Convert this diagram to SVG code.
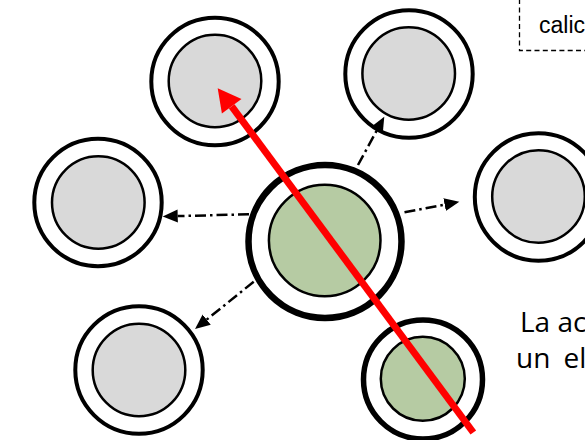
<svg xmlns="http://www.w3.org/2000/svg" width="585" height="440" viewBox="0 0 585 440">
<style>
.ring{fill:#ffffff;stroke:#000000;stroke-width:4}
.ring-big{fill:#ffffff;stroke:#000000;stroke-width:6.5}
.ring-mid{fill:#ffffff;stroke:#000000;stroke-width:5.5}
.grey{fill:#d9d9d9;stroke:#000000;stroke-width:2.5}
.green{fill:#b6cba3;stroke:#000000;stroke-width:2.5}
.dd{fill:none;stroke:#000000;stroke-width:2.5;stroke-dasharray:11 4 2.5 4;marker-end:url(#ah)}
.lbl{font-family:"Open Sans","Liberation Sans",sans-serif;font-size:28px;fill:#000000}
</style>
<defs>
<marker id="ah" markerUnits="userSpaceOnUse" markerWidth="16" markerHeight="14" refX="0" refY="6.5" orient="auto" viewBox="0 0 16 14">
<path d="M0,0 L15,6.5 L0,13 Z" fill="#000000"/>
</marker>
</defs>
<rect width="585" height="440" fill="#ffffff"/>
<g id="box-top">
<rect x="519.5" y="-20" width="120" height="70.5" fill="none" stroke="#000000" stroke-width="1.3" stroke-dasharray="5 3.3"/>
<text x="539" y="32.5" font-family="Liberation Sans, Arial, sans-serif" font-size="23" fill="#000000">calic</text>
</g>
<g id="node-tl"><circle class="ring" cx="215" cy="81.5" r="63.7"/><circle class="grey" cx="215" cy="81" r="46.3"/></g>
<g id="node-tr"><circle class="ring" cx="409" cy="74" r="63.7"/><circle class="grey" cx="408.7" cy="73.5" r="46.3"/></g>
<g id="node-ml"><circle class="ring" cx="98" cy="202.5" r="63.7"/><circle class="grey" cx="98.3" cy="202.5" r="46.3"/></g>
<g id="node-mr"><circle class="ring" cx="538.5" cy="197" r="63.7"/><circle class="grey" cx="538.5" cy="196.5" r="46.3"/></g>
<g id="node-bl"><circle class="ring" cx="139" cy="370" r="63.7"/><circle class="grey" cx="139" cy="370" r="46.3"/></g>
<g id="node-center"><circle class="ring-big" cx="325" cy="241.5" r="76.5"/><circle class="green" cx="324.7" cy="240.5" r="55.8"/></g>
<g id="node-br"><circle class="ring-mid" cx="423" cy="379.5" r="59.5"/><circle class="green" cx="422.8" cy="378.8" r="42"/></g>
<g id="connectors">
<line class="dd" x1="249" y1="214.3" x2="177.7" y2="216.1"/>
<line class="dd" x1="404.5" y1="212.3" x2="444.6" y2="204.6"/>
<line class="dd" x1="358" y1="165" x2="377.1" y2="129.9"/>
<line class="dd" x1="253.7" y1="281.7" x2="206.7" y2="319.6"/>
<line x1="473.3" y1="432.5" x2="231.7" y2="106.3" stroke="#ff0000" stroke-width="7"/>
<polygon points="217.7,88.3 241.5,99 221.9,113.6" fill="#ff0000"/>
</g>
<g id="text-bottom">
<text class="lbl" x="520" y="331.7">La ac</text>
<text class="lbl" x="516" y="368.3" word-spacing="6">un el</text>
</g>
</svg>
